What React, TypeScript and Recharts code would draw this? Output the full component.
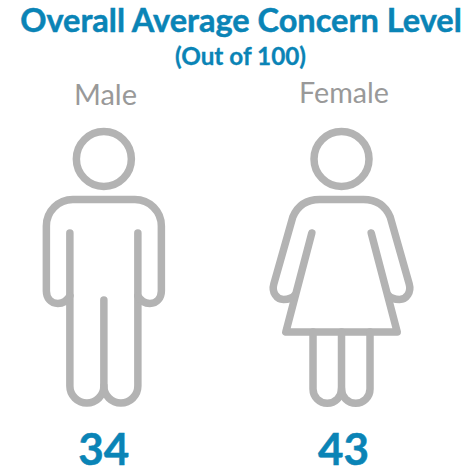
import React from "react";
import { BarChart, Bar, XAxis, YAxis, LabelList } from "recharts";

const titleText = "Overall Average Concern Level";
const subtitleText = "(Out of 100)";
const categories = ["Male", "Female"];
const concernValues = [34, 43];
const chartData = categories.map((name, i) => ({ name, value: concernValues[i] }));

const BLUE = "#0a84b6";
const GREY = "#b3b3b3";
const LABEL_GREY = "#999999";
const FONT = "Lato, Carlito, sans-serif";
const PLOT_BOTTOM = 428;

const malePaths = [
  "M -34 233 V 386 A 17 17 0 0 0 0 386 V 300",
  "M 34 233 V 386 A 17 17 0 0 1 0 386",
  "M -34 296 C -37 301 -42 303.5 -46 303.5 C -53 303.5 -57.5 298 -57.5 291 V 226 A 26.5 26.5 0 0 1 -31 199.5 H 31 A 26.5 26.5 0 0 1 57.5 226 V 291 C 57.5 298 53 303.5 46 303.5 C 42 303.5 37 301 34 296",
];
const femalePaths = [
  "M -29.7 233 L -55.7 332 H 55.7 L 29.7 233",
  "M -28.5 332 V 389 A 14.25 14.25 0 0 0 0 389 V 332",
  "M 28.5 332 V 389 A 14.25 14.25 0 0 1 0 389",
  "M -46.5 295 C -49 298 -53 299.5 -58 299.5 C -65 299.5 -70 292 -67.7 284 L -48.7 217 C -44 206 -35 199.5 -22 199.5 H 22 C 35 199.5 44 206 48.7 217 L 67.7 284 C 70 292 65 299.5 58 299.5 C 53 299.5 49 298 46.5 295",
];

const Figure = (props: any) => {
  const { x, y, width, height, payload } = props;
  const cx = x + width / 2;
  const dy = y + height - PLOT_BOTTOM;
  const paths = payload.name === "Male" ? malePaths : femalePaths;
  return (
    <g transform={`translate(${cx},${dy})`} fill="none" stroke={GREY} strokeWidth={7.5} strokeLinecap="round" strokeLinejoin="round">
      <circle cx={0} cy={159} r={27.5} />
      {paths.map((d, i) => (
        <path key={i} d={d} />
      ))}
    </g>
  );
};

const CategoryTick = (props: any) => {
  const { x, y, payload } = props;
  const female = payload.value === "Female";
  return (
    <text x={x + (female ? 2.5 : 1.5)} y={y + (female ? -9 : -7)} textAnchor="middle" fontFamily={FONT} fontSize={female ? 28.7 : 29} fill={LABEL_GREY}>
      {payload.value}
    </text>
  );
};

export default function App() {
  return (
    <div style={{ position: "absolute", left: 0, top: 0, width: 468, height: 467 }}>
      <BarChart
        width={468}
        height={467}
        data={chartData}
        margin={{ top: 110, right: 7.6, bottom: 39, left: -14.9 }}
      >
        <XAxis
          xAxisId={0}
          dataKey="name"
          orientation="top"
          axisLine={false}
          tickLine={false}
          height={10}
          tick={<CategoryTick />}
          interval={0}
        />
        <YAxis yAxisId={0} hide width={0} domain={[0, 100]} />
        <Bar dataKey="value" isAnimationActive={false} shape={<Figure />}>
          <LabelList
            dataKey="value"
            content={(p: any) => (
              <text
                x={p.x + p.width / 2 + (p.index === 1 ? 2 : 0)}
                y={p.y + p.height + 37}
                textAnchor="middle"
                fontFamily={FONT}
                fontWeight={700}
                fontSize={44}
                fill={BLUE}
                stroke={BLUE}
                strokeWidth={0.5}
              >
                {p.value}
              </text>
            )}
          />
        </Bar>
        <text x={241} y={32} textAnchor="middle" fontFamily={FONT} fontWeight={700} fontSize={32.5} fill={BLUE} stroke={BLUE} strokeWidth={0.5}>
          {titleText}
        </text>
        <text x={240.5} y={65} textAnchor="middle" fontFamily={FONT} fontWeight={700} fontSize={24.3} fill={BLUE} stroke={BLUE} strokeWidth={0.3}>
          {subtitleText}
        </text>
      </BarChart>
    </div>
  );
}
